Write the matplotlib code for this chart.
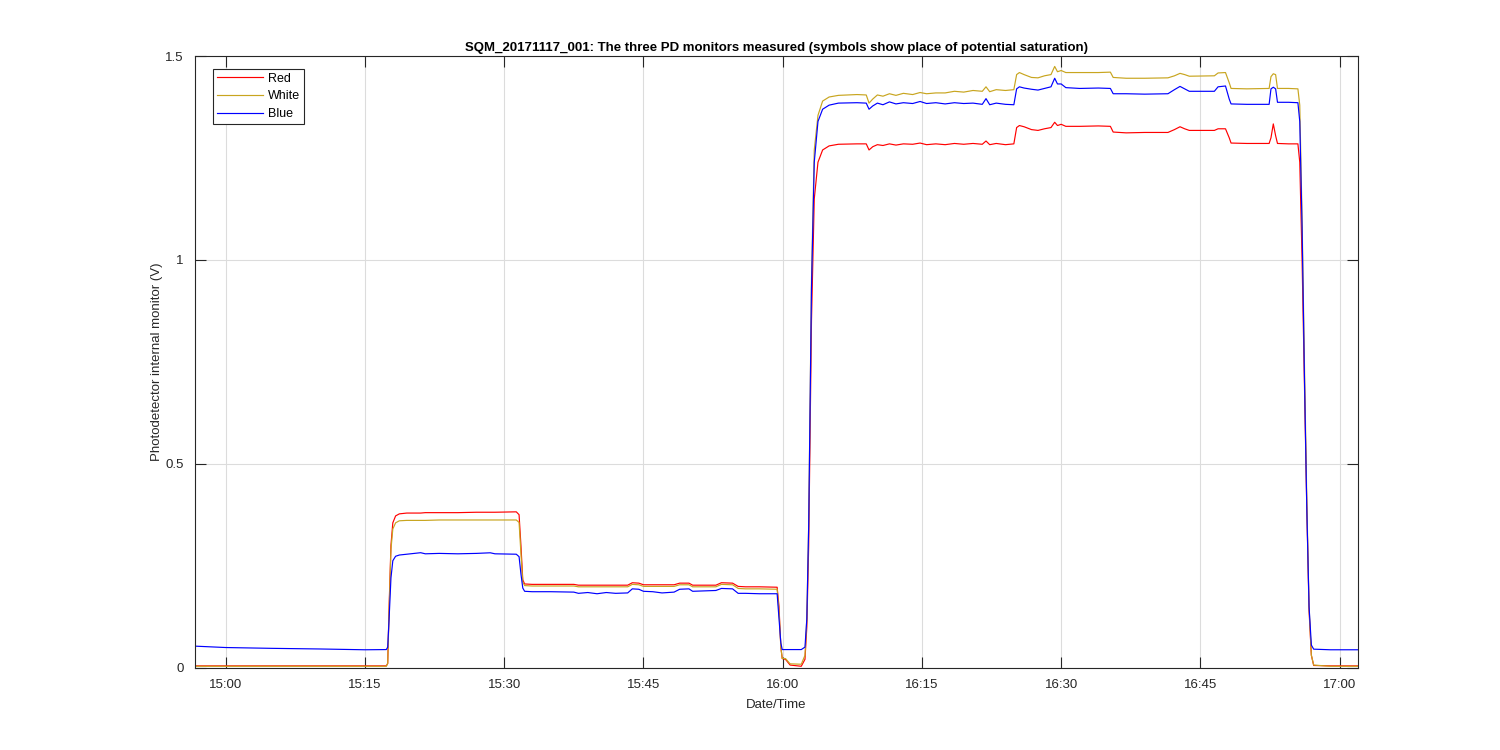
import matplotlib
matplotlib.use('Agg')
import matplotlib.pyplot as plt
import matplotlib.dates as mdates
from datetime import datetime, timedelta

# minutes after 15:00 on 2017-11-17
t_min = [-3.3, 0, 5, 10, 15, 17.3, 17.45, 17.6, 17.8, 18.0, 18.3, 18.7, 19.5, 21, 21.5,
         23, 25, 27, 28.5, 29, 31.3, 31.6, 31.8, 32.0, 32.2, 33, 35, 37.5, 38, 39,
         40, 41, 42, 43.3, 43.8, 44.5, 45, 46, 47, 48.3, 48.9, 49.9, 50.3, 51.5, 52.8,
         53.4, 54.6, 55.2, 56, 57.5, 59.4, 59.6, 59.8, 59.95, 60.3, 60.8, 62.0, 62.4, 62.6, 62.8,
         63.1, 63.4, 63.8, 64.3, 65, 66, 68, 69.0, 69.3, 69.7, 70.2, 70.8, 71.5, 72.2, 73,
         74, 74.8, 75.5, 76.5, 77.5, 78.5, 79.5, 80.5, 81.5, 81.9, 82.3, 83, 84, 84.9, 85.2,
         85.5, 86.0, 86.8, 87.5, 88.2, 88.9, 89.3, 89.6, 90.0, 90.5, 92, 94, 95.3, 95.6, 97,
         99, 101.5, 102.2, 102.8, 103.3, 103.8, 106.5, 106.9, 107.7, 108.1, 108.3, 110, 112.4, 112.6, 112.85,
         113.1, 113.3, 114.5, 115.5, 115.7, 115.95, 116.2, 116.45, 116.7, 116.95, 117.2, 119, 121.92]

red = [0.004, 0.004, 0.004, 0.004, 0.004, 0.004, 0.01, 0.15, 0.30, 0.355, 0.372, 0.377, 0.379, 0.379, 0.380,
       0.380, 0.380, 0.381, 0.381, 0.381, 0.382, 0.375, 0.30, 0.215, 0.205, 0.204, 0.204, 0.204, 0.202, 0.202,
       0.202, 0.202, 0.202, 0.202, 0.208, 0.207, 0.203, 0.203, 0.203, 0.203, 0.207, 0.207, 0.202, 0.202, 0.202,
       0.208, 0.207, 0.199, 0.198, 0.198, 0.197, 0.15, 0.05, 0.022, 0.020, 0.006, 0.003, 0.02, 0.10, 0.30,
       0.85, 1.15, 1.24, 1.27, 1.28, 1.284, 1.285, 1.285, 1.270, 1.278, 1.283, 1.281, 1.285, 1.282, 1.285,
       1.284, 1.287, 1.283, 1.285, 1.283, 1.286, 1.284, 1.286, 1.284, 1.292, 1.283, 1.286, 1.283, 1.285, 1.325,
       1.330, 1.327, 1.320, 1.318, 1.322, 1.325, 1.338, 1.330, 1.333, 1.328, 1.328, 1.329, 1.328, 1.314, 1.312,
       1.313, 1.313, 1.320, 1.327, 1.322, 1.318, 1.318, 1.322, 1.322, 1.300, 1.287, 1.286, 1.286, 1.300, 1.334,
       1.305, 1.286, 1.285, 1.285, 1.24, 1.00, 0.70, 0.40, 0.14, 0.03, 0.005, 0.004, 0.004]

white = [0.003, 0.003, 0.003, 0.003, 0.003, 0.003, 0.01, 0.14, 0.29, 0.34, 0.355, 0.360, 0.361, 0.361, 0.361,
         0.362, 0.362, 0.362, 0.362, 0.362, 0.362, 0.356, 0.28, 0.21, 0.201, 0.200, 0.200, 0.200, 0.198, 0.198,
         0.198, 0.198, 0.198, 0.198, 0.204, 0.203, 0.199, 0.199, 0.199, 0.199, 0.203, 0.203, 0.198, 0.198, 0.198,
         0.204, 0.203, 0.194, 0.193, 0.193, 0.192, 0.14, 0.05, 0.022, 0.022, 0.009, 0.008, 0.03, 0.12, 0.35,
         0.95, 1.27, 1.355, 1.39, 1.40, 1.404, 1.406, 1.405, 1.385, 1.395, 1.405, 1.402, 1.408, 1.404, 1.409,
         1.406, 1.411, 1.408, 1.410, 1.410, 1.414, 1.412, 1.416, 1.414, 1.425, 1.413, 1.418, 1.416, 1.418, 1.455,
         1.460, 1.455, 1.448, 1.447, 1.452, 1.455, 1.475, 1.462, 1.465, 1.460, 1.460, 1.460, 1.461, 1.448, 1.446,
         1.446, 1.447, 1.452, 1.458, 1.455, 1.451, 1.452, 1.459, 1.460, 1.435, 1.421, 1.420, 1.421, 1.450, 1.457,
         1.455, 1.421, 1.421, 1.420, 1.38, 1.10, 0.75, 0.42, 0.15, 0.03, 0.006, 0.003, 0.003]

blue = [0.0524, 0.049, 0.047, 0.0455, 0.0435, 0.044, 0.05, 0.12, 0.22, 0.262, 0.273, 0.276, 0.278, 0.2817, 0.279,
        0.280, 0.279, 0.280, 0.2815, 0.279, 0.278, 0.272, 0.23, 0.195, 0.187, 0.186, 0.186, 0.185, 0.182, 0.184,
        0.181, 0.184, 0.182, 0.183, 0.193, 0.192, 0.187, 0.186, 0.183, 0.185, 0.192, 0.193, 0.187, 0.188, 0.189,
        0.194, 0.193, 0.182, 0.182, 0.181, 0.181, 0.12, 0.06, 0.044, 0.044, 0.044, 0.044, 0.05, 0.12, 0.35,
        0.93, 1.24, 1.34, 1.37, 1.38, 1.385, 1.386, 1.385, 1.370, 1.378, 1.385, 1.381, 1.388, 1.383, 1.386,
        1.384, 1.389, 1.384, 1.386, 1.383, 1.386, 1.384, 1.385, 1.382, 1.396, 1.381, 1.385, 1.382, 1.381, 1.420,
        1.425, 1.422, 1.419, 1.417, 1.421, 1.425, 1.446, 1.432, 1.432, 1.423, 1.421, 1.422, 1.421, 1.408, 1.408,
        1.407, 1.408, 1.418, 1.426, 1.420, 1.414, 1.414, 1.425, 1.427, 1.395, 1.383, 1.382, 1.382, 1.420, 1.424,
        1.420, 1.387, 1.387, 1.386, 1.34, 1.08, 0.72, 0.40, 0.15, 0.055, 0.045, 0.0435, 0.0435]

t0 = datetime(2017, 11, 17, 15, 0)
times = [t0 + timedelta(minutes=m) for m in t_min]

plt.rcParams['font.family'] = ['Liberation Sans', 'DejaVu Sans']

fig = plt.figure(figsize=(15, 7.5), dpi=100, facecolor='white')
ax = fig.add_axes([0.13, 0.11, 0.775, 0.815])

ax.plot(times, red, color='#FF0000', linewidth=0.85, label='Red')
ax.plot(times, white, color='#C8A51F', linewidth=0.85, label='White')
ax.plot(times, blue, color='#0000FF', linewidth=0.85, label='Blue')

ax.set_xlim(t0 + timedelta(minutes=-3.31), t0 + timedelta(minutes=121.92))
ax.set_ylim(0, 1.5)
ax.set_yticks([0, 0.5, 1, 1.5])
ax.set_yticklabels(['0', '0.5', '1', '1.5'])
ax.xaxis.set_major_locator(mdates.MinuteLocator(byminute=[0, 15, 30, 45]))
ax.xaxis.set_major_formatter(mdates.DateFormatter('%H:%M'))

ax.grid(True, color='#dcdcdc', linewidth=0.8)
ax.set_axisbelow(True)
ax.tick_params(direction='in', length=8, width=0.8, top=True, right=True,
               labelsize=9.5, colors='#262626', pad=8)
for s in ax.spines.values():
    s.set_color('#262626')
    s.set_linewidth(0.8)

ax.set_xlabel('Date/Time', fontsize=9.5, color='#262626', labelpad=6)
ax.set_ylabel('Photodetector internal monitor (V)', fontsize=9.5, color='#262626', labelpad=2)
ax.set_title('SQM_20171117_001: The three PD monitors measured (symbols show place of potential saturation)',
             fontsize=9.5, fontweight='bold', color='black', pad=4)

leg = ax.legend(loc='upper left', bbox_to_anchor=(0.0157, 0.979), borderaxespad=0,
                fontsize=9, fancybox=False, framealpha=1, edgecolor='#262626',
                handlelength=3.7, handletextpad=0.4, borderpad=0.3, labelspacing=0.45)
leg.get_frame().set_linewidth(0.8)

fig.savefig('out.png', dpi=100, facecolor='white')
